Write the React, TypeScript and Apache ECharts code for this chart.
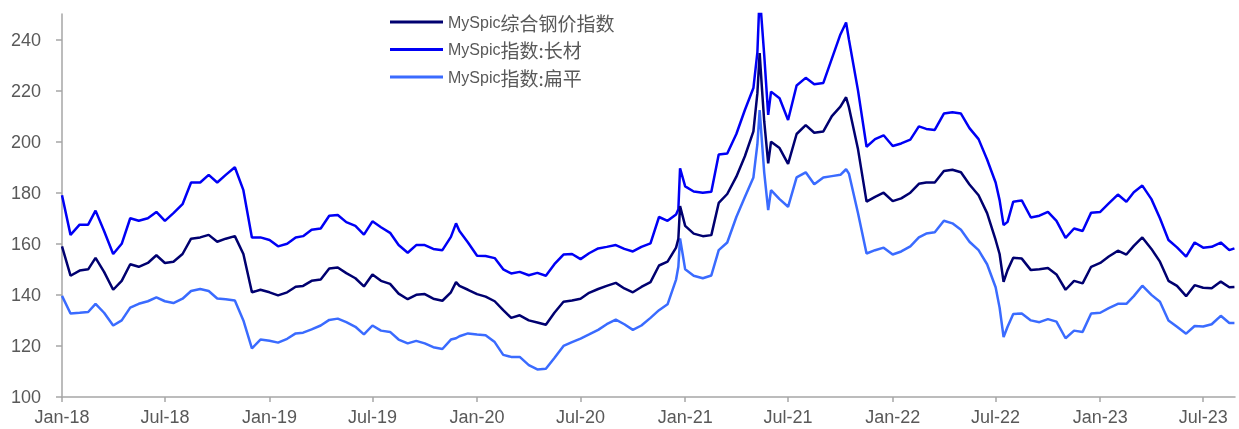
import React, { useEffect, useRef } from 'react';
import * as echarts from 'echarts';

const SERIES_NAMES = ['MySpic综合钢价指数', 'MySpic指数:长材', 'MySpic指数:扁平'];
const SERIES_COLORS = ['#000070', '#0000F5', '#3A6BFF'];

const DATES = [
  '2018-01-01', '2018-01-16', '2018-02-01', '2018-02-16', '2018-03-01', '2018-03-16', '2018-04-01', '2018-04-16',
  '2018-05-01', '2018-05-16', '2018-06-01', '2018-06-16', '2018-07-01', '2018-07-16', '2018-08-01', '2018-08-16',
  '2018-09-01', '2018-09-16', '2018-10-01', '2018-10-16', '2018-11-01', '2018-11-16', '2018-12-01', '2018-12-16',
  '2019-01-01', '2019-01-16', '2019-02-01', '2019-02-16', '2019-03-01', '2019-03-16', '2019-04-01', '2019-04-16',
  '2019-05-01', '2019-05-16', '2019-06-01', '2019-06-16', '2019-07-01', '2019-07-16', '2019-08-01', '2019-08-16',
  '2019-09-01', '2019-09-16', '2019-10-01', '2019-10-16', '2019-11-01', '2019-11-16', '2019-11-25', '2019-12-01',
  '2019-12-16',
  '2020-01-01', '2020-01-16', '2020-02-01', '2020-02-16', '2020-03-01', '2020-03-16', '2020-04-01', '2020-04-16',
  '2020-05-01', '2020-05-16', '2020-06-01', '2020-06-16', '2020-07-01', '2020-07-16', '2020-08-01', '2020-08-16',
  '2020-09-01', '2020-09-16', '2020-10-01', '2020-10-16', '2020-11-01', '2020-11-16', '2020-12-01', '2020-12-16',
  '2020-12-20', '2020-12-23',
  '2021-01-01', '2021-01-16', '2021-02-01', '2021-02-16', '2021-03-01', '2021-03-16', '2021-04-01', '2021-04-16',
  '2021-05-01', '2021-05-08', '2021-05-12', '2021-05-16', '2021-05-20', '2021-05-27', '2021-06-01', '2021-06-16',
  '2021-07-01', '2021-07-16', '2021-08-01', '2021-08-16', '2021-09-01', '2021-09-16', '2021-10-01', '2021-10-11',
  '2021-10-16', '2021-11-01', '2021-11-16', '2021-12-01', '2021-12-16',
  '2022-01-01', '2022-01-16', '2022-02-01', '2022-02-16', '2022-03-01', '2022-03-16', '2022-04-01', '2022-04-16',
  '2022-05-01', '2022-05-16', '2022-06-01', '2022-06-16', '2022-07-01', '2022-07-08', '2022-07-15', '2022-07-22',
  '2022-08-01', '2022-08-16', '2022-09-01', '2022-09-16', '2022-10-01', '2022-10-16', '2022-11-01', '2022-11-16',
  '2022-12-01', '2022-12-16',
  '2023-01-01', '2023-01-16', '2023-02-01', '2023-02-16', '2023-03-01', '2023-03-16', '2023-04-01', '2023-04-16',
  '2023-05-01', '2023-05-16', '2023-06-01', '2023-06-16', '2023-07-01', '2023-07-16', '2023-08-01', '2023-08-16',
  '2023-08-25',
];

// MySpic综合钢价指数
const COMPOSITE = [
  159, 147.5, 149.5, 150, 154.5, 149, 142, 145.5, 152, 151, 152.5, 155.5, 152.5, 153, 156, 162, 162.5, 163.5, 160.8, 162, 163, 156, 141, 142,
  141, 139.8, 141, 143.2, 143.5, 145.5, 146, 150.3, 150.7, 148.5, 146.5, 143.3, 148, 145.5, 144.3, 140.5, 138.3, 140, 140.3, 138.5, 137.7, 141, 145, 143.5, 142,
  140.3, 139.3, 137.5, 134, 131, 132, 130, 129.2, 128.3, 133, 137.3, 137.8, 138.5, 140.8, 142.3, 143.5, 144.7, 142.5, 141, 143.1, 145, 151.5, 153, 158.5, 162, 174.8,
  167, 164, 163, 163.4, 176, 179.5, 186.3, 194.3, 204, 219, 234.7, 221, 208, 191.5, 200, 197.5, 191.3, 203, 206.5, 203.5, 204, 210, 213.7, 217.4, 213.5, 197, 176.5, 178.4, 180,
  176.7, 177.8, 180, 183.5, 184, 184, 188.5, 189, 188, 183.2, 179, 172, 161.5, 156, 145.1, 149.7, 154.5, 154.2, 149.7, 150, 150.5, 148, 142, 145.5, 144.5, 151,
  152.5, 155, 157.3, 155.8, 159.2, 162.5, 158, 153, 145.5, 143.5, 139.5, 143.8, 142.8, 142.6, 145.2, 143, 143.1,
];

// MySpic指数:长材
const LONG_STEEL = [
  179, 163.5, 167.5, 167.5, 173, 165, 156, 160, 170, 169, 170, 172.5, 169, 172, 175.5, 184, 184, 187, 184, 187, 190, 181, 162.5, 162.5,
  161.5, 159, 160, 162.5, 163, 165.5, 166, 171, 171.3, 168.5, 167, 163.6, 168.8, 166.5, 164.3, 159.5, 156.5, 159.5, 159.5, 158, 157.5, 162.7, 168, 165, 160.5,
  155.3, 155.2, 154.4, 150, 148.4, 149, 147.7, 148.6, 147.5, 152, 155.8, 156, 154, 156.3, 158.2, 158.8, 159.5, 158, 157, 158.8, 160.2, 170.5, 169, 171.5, 173.5, 189.6,
  182.5, 180.5, 180, 180.4, 195, 195.4, 203, 212.4, 221, 235, 258, 246, 234, 210.5, 219.6, 217, 208.5, 222, 225, 222.5, 223, 232.5, 242, 246.7, 240, 220, 198, 201, 202.5,
  198.3, 199.3, 200.8, 206, 205, 204.6, 211, 211.5, 211, 205.3, 201, 193, 184, 177.1, 167.3, 168.6, 176.5, 177, 170.3, 171, 172.5, 169, 162.3, 166, 165, 172.2,
  172.5, 175.8, 179.3, 176.5, 180.2, 182.8, 177.5, 170, 161.5, 158.6, 155, 160.5, 158.5, 158.8, 160.5, 157.5, 158.2,
];

// MySpic指数:扁平
const FLAT_STEEL = [
  139.6, 132.7, 133, 133.3, 136.5, 133, 128, 130, 135, 136.5, 137.5, 139, 137.5, 136.8, 138.5, 141.5, 142.3, 141.5, 138.6, 138.3, 137.8, 130, 119, 122.5,
  122, 121.3, 122.8, 124.9, 125.2, 126.5, 128, 130.2, 130.7, 129.3, 127.5, 124.5, 128, 126, 125.5, 122.5, 121, 122, 121, 119.5, 118.8, 122.5, 123, 123.8, 124.9,
  124.5, 124.2, 121.5, 116.5, 115.7, 115.7, 112.5, 110.8, 111.1, 115.3, 120, 121.5, 122.9, 124.5, 126.3, 128.5, 130.3, 128.5, 126.3, 128, 131, 134, 136.3, 146, 151, 162.1,
  150, 147.5, 146.5, 147.6, 157.5, 160.5, 170.5, 178.3, 186, 199, 212.4, 200, 188, 173.2, 181, 177.5, 174.5, 186, 188, 183.3, 186, 186.5, 187, 189.2, 187.5, 172, 156.2, 157.5, 158.5,
  155.8, 157, 159, 162.5, 164, 164.5, 169, 168, 165.5, 160.8, 157.5, 152, 143, 135, 123.5, 127.5, 132.5, 132.7, 130, 129.3, 130.5, 129.5, 123, 126, 125.5, 132.7,
  133, 134.8, 136.5, 136.5, 139.5, 143.6, 140, 137.3, 130, 127.5, 124.8, 127.8, 127.6, 128.5, 131.8, 129, 129,
];

const TICK_DATES = [
  '2018-01-01', '2018-07-01', '2019-01-01', '2019-07-01', '2020-01-01', '2020-07-01',
  '2021-01-01', '2021-07-01', '2022-01-01', '2022-07-01', '2023-01-01', '2023-07-01',
];
const TICK_LABELS = [
  'Jan-18', 'Jul-18', 'Jan-19', 'Jul-19', 'Jan-20', 'Jul-20',
  'Jan-21', 'Jul-21', 'Jan-22', 'Jul-22', 'Jan-23', 'Jul-23',
];
const Y_TICKS = [100, 120, 140, 160, 180, 200, 220, 240];
const X_START = '2018-01-01';
const X_END = '2023-08-26';

function ts(s: string): number {
  const [y, m, d] = s.split('-').map(Number);
  return Date.UTC(y, m - 1, d);
}

export default function App() {
  const ref = useRef<HTMLDivElement>(null);
  useEffect(() => {
    if (!ref.current) return;
    const chart = echarts.init(ref.current, null, { renderer: 'svg' });
    const tickTs = TICK_DATES.map(ts);
    const valueSets = [COMPOSITE, LONG_STEEL, FLAT_STEEL];
    const series = SERIES_NAMES.map((name, k) => ({
      name,
      type: 'line',
      symbol: 'none',
      showSymbol: false,
      data: DATES.map((d, i) => [ts(d), valueSets[k][i]]),
      lineStyle: { color: SERIES_COLORS[k], width: 2.5 },
      itemStyle: { color: SERIES_COLORS[k] },
      emphasis: { disabled: true },
      z: 3 - k,
    }));
    const axisColor = '#A6A6A6';
    const labelColor = '#595959';
    chart.setOption({
      animation: false,
      grid: { left: 62, right: 4, top: 14, bottom: 32, containLabel: false },
      legend: {
        orient: 'vertical',
        left: 385,
        top: 7.5,
        icon: 'rect',
        itemWidth: 53,
        itemHeight: 3,
        itemGap: 8.5,
        data: SERIES_NAMES,
        formatter: (name: string) => {
          const rest = name.replace(/^MySpic/, '');
          return `{a|MySpic}{b|${rest}}`;
        },
        textStyle: {
          rich: {
            a: { fontFamily: 'Liberation Sans', fontSize: 16, color: labelColor, lineHeight: 20 },
            b: { fontFamily: 'Noto Sans CJK SC', fontSize: 19, color: labelColor, lineHeight: 20 },
          },
        },
      },
      xAxis: {
        type: 'value',
        min: ts(X_START),
        max: ts(X_END),
        axisLine: { show: true, lineStyle: { color: axisColor, width: 1.5 } },
        axisTick: { show: true, length: 5, customValues: tickTs, lineStyle: { color: axisColor, width: 1.5 } },
        axisLabel: {
          customValues: tickTs,
          formatter: (v: number) => {
            const i = tickTs.indexOf(v);
            return i >= 0 ? TICK_LABELS[i] : '';
          },
          fontFamily: 'Liberation Sans',
          fontSize: 18,
          color: labelColor,
          margin: 11,
        },
        splitLine: { show: false },
      },
      yAxis: {
        type: 'value',
        min: 100,
        max: 250,
        interval: 20,
        axisLine: { show: true, lineStyle: { color: axisColor, width: 1.5 } },
        axisTick: { show: true, length: 6, customValues: Y_TICKS, lineStyle: { color: axisColor, width: 1.5 } },
        axisLabel: {
          customValues: Y_TICKS,
          fontFamily: 'Liberation Sans',
          fontSize: 18,
          color: labelColor,
          margin: 21,
        },
        splitLine: { show: false },
      },
      series,
    });
    return () => chart.dispose();
  }, []);
  return <div ref={ref} style={{ position: 'fixed', left: 0, top: 0, width: 1239, height: 429 }} />;
}
